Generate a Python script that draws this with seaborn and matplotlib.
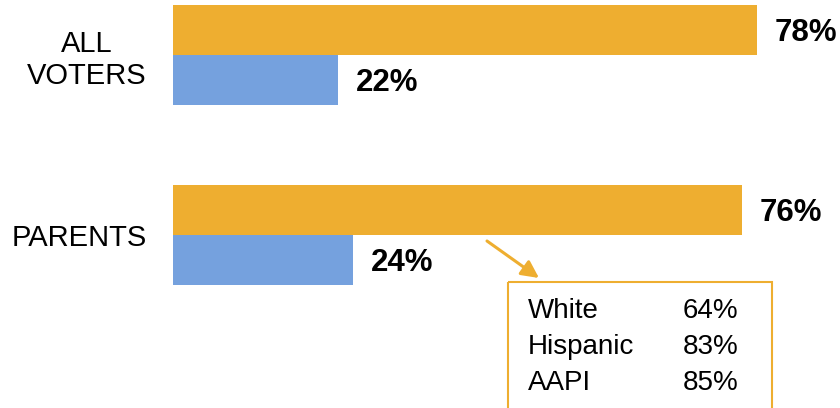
import matplotlib
matplotlib.use('Agg')
import matplotlib.pyplot as plt
import seaborn as sns
import pandas as pd
from matplotlib.patches import Rectangle

categories = ['ALL\nVOTERS', 'PARENTS']
series_names = ['Yes', 'No']
yes_values = [78, 76]
no_values = [22, 24]

sub_groups = ['White', 'Hispanic', 'AAPI']
sub_values = [64, 83, 85]

orange = '#EEAE30'
blue = '#75A1DE'

df = pd.DataFrame({
    'group': categories * 2,
    'answer': [series_names[0]] * 2 + [series_names[1]] * 2,
    'pct': yes_values + no_values,
})

sns.set_theme(style='white')
plt.rcParams['font.family'] = ['Liberation Sans', 'DejaVu Sans']

fig = plt.figure(figsize=(8.4, 4.08), dpi=100)
ax = fig.add_axes([173 / 840, 0, 1 - 173 / 840, 1])

sns.barplot(data=df, y='group', x='pct', hue='answer', orient='h',
            palette=[orange, blue], saturation=1, width=100 / 180,
            linewidth=0, legend=False, ax=ax)

ax.set_xlim(0, (840 - 173) / 7.487)
ax.set_ylim(1 + (408 - 235) / 180, -55 / 180)
ax.set_xlabel('')
ax.set_ylabel('')
ax.set_xticks([])
sns.despine(ax=ax, left=True, bottom=True)
ax.tick_params(axis='y', length=0, pad=19, labelsize=21)
for lab in ax.get_yticklabels():
    lab.set_multialignment('center')
    lab.set_color('black')

# value labels (nudged down a little like the original)
for container in ax.containers:
    anns = ax.bar_label(container, fmt='%d%%', padding=13, fontsize=22.5,
                        fontweight='bold', color='black')
    for a in anns:
        a.xyann = (13, -2.5)

# breakdown box
x0, x1 = (508 - 173) / 7.487, (772 - 173) / 7.487
y_top = (282 - 55) / 180
ax.add_patch(Rectangle((x0, y_top), x1 - x0, 1.0, fill=False,
                       edgecolor=orange, linewidth=1.5, clip_on=True))
row_y = [(311 - 55) / 180, (347 - 55) / 180, (383 - 55) / 180]
for name, val, yy in zip(sub_groups, sub_values, row_y):
    ax.text((528 - 173) / 7.487, yy, name, fontsize=20, va='center',
            ha='left', color='black')
    ax.text((683 - 173) / 7.487, yy, f'{val}%', fontsize=20, va='center',
            ha='left', color='black')

ax.annotate('', xy=((539 - 173) / 7.487, (278 - 55) / 180),
            xytext=((487 - 173) / 7.487, (241 - 55) / 180),
            arrowprops=dict(arrowstyle='-|>', color=orange, lw=2.2,
                            mutation_scale=26, shrinkA=0, shrinkB=0))

fig.savefig('out.png', dpi=100)
